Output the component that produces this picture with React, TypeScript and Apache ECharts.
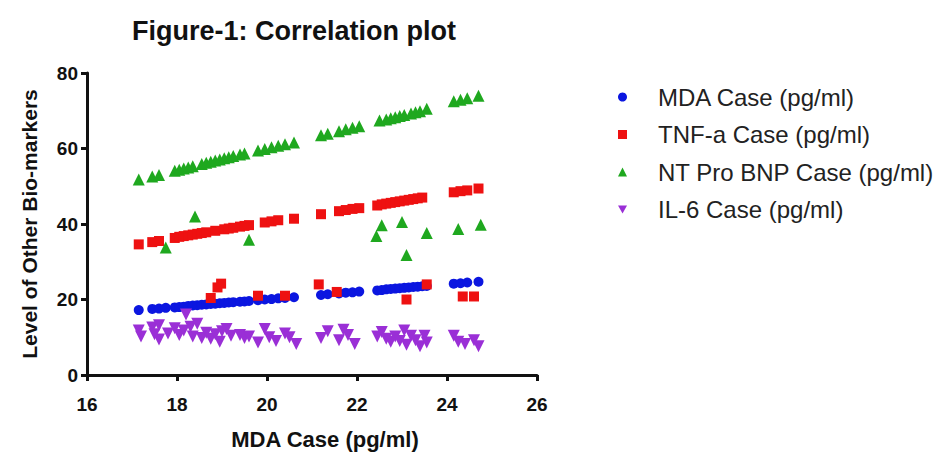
import React, { useEffect, useRef } from "react";
import * as echarts from "echarts";

const titleText = "Figure-1: Correlation plot";
const xAxisName = "MDA Case (pg/ml)";
const yAxisName = "Level of Other Bio-markers";
const seriesNames = [
  "MDA Case (pg/ml)",
  "TNF-a Case (pg/ml)",
  "NT Pro BNP Case (pg/ml)",
  "IL-6 Case (pg/ml)",
];
const seriesColors = ["#0b16e0", "#ee1111", "#1fa81f", "#9a2fd6"];

const mdaPoints: number[][] = [
  [17.15, 17.2], [17.45, 17.5], [17.6, 17.6], [17.75, 17.8], [17.95, 17.9], [18.05, 18.0],
  [18.15, 18.1], [18.25, 18.3], [18.35, 18.4], [18.45, 18.5], [18.55, 18.6], [18.65, 18.7],
  [18.75, 18.8], [18.85, 18.9], [18.95, 19.0], [19.05, 19.1], [19.15, 19.2], [19.25, 19.3],
  [19.4, 19.4], [19.5, 19.5], [19.6, 19.6], [19.8, 19.8], [19.95, 20.0], [20.1, 20.1],
  [20.25, 20.3], [20.4, 20.4], [20.6, 20.6], [21.2, 21.2], [21.35, 21.4], [21.6, 21.6],
  [21.75, 21.8], [21.9, 21.9], [22.05, 22.1], [22.45, 22.4], [22.55, 22.5], [22.65, 22.7],
  [22.75, 22.8], [22.85, 22.9], [22.95, 23.0], [23.05, 23.1], [23.15, 23.2], [23.25, 23.3],
  [23.35, 23.4], [23.45, 23.5], [23.55, 23.6], [24.15, 24.2], [24.3, 24.3], [24.45, 24.5],
  [24.7, 24.7],
];

const tnfPoints: number[][] = [
  [17.15, 34.6], [17.45, 35.2], [17.6, 35.5], [17.95, 36.3], [18.05, 36.6], [18.15, 36.8],
  [18.25, 37.0], [18.35, 37.2], [18.45, 37.4], [18.55, 37.6], [18.65, 37.8], [18.85, 38.2],
  [19.05, 38.6], [19.15, 38.8], [19.25, 39.0], [19.4, 39.3], [19.5, 39.5], [19.6, 39.7],
  [19.95, 40.4], [20.1, 40.7], [20.25, 41.0], [20.6, 41.4], [21.2, 42.6], [21.6, 43.4],
  [21.75, 43.7], [21.9, 44.0], [22.05, 44.2], [22.45, 44.9], [22.55, 45.2], [22.65, 45.4],
  [22.75, 45.6], [22.85, 45.8], [22.95, 46.0], [23.05, 46.2], [23.15, 46.4], [23.25, 46.6],
  [23.35, 46.8], [23.45, 47.0], [24.15, 48.4], [24.3, 48.7], [24.45, 48.9], [24.7, 49.4],
  [18.75, 20.4], [18.9, 23.2], [18.98, 24.2], [19.8, 21.0], [20.4, 21.0], [21.15, 24.0],
  [21.55, 22.0], [23.1, 20.0], [23.55, 24.0], [24.35, 20.8], [24.6, 20.8],
];

const bnpPoints: number[][] = [
  [17.15, 51.8], [17.45, 52.6], [17.6, 53.0], [17.95, 54.1], [18.05, 54.4], [18.15, 54.7],
  [18.25, 55.0], [18.35, 55.3], [18.55, 55.9], [18.65, 56.2], [18.75, 56.5], [18.85, 56.8],
  [18.95, 57.1], [19.05, 57.4], [19.15, 57.7], [19.25, 58.0], [19.4, 58.4], [19.5, 58.7],
  [19.8, 59.5], [19.95, 59.9], [20.1, 60.3], [20.25, 60.7], [20.4, 61.1], [20.6, 61.6],
  [21.2, 63.5], [21.35, 63.9], [21.6, 64.6], [21.75, 65.1], [21.9, 65.5], [22.05, 65.9],
  [22.5, 67.4], [22.65, 67.7], [22.75, 68.0], [22.85, 68.3], [22.95, 68.6], [23.05, 68.9],
  [23.2, 69.3], [23.3, 69.6], [23.4, 69.9], [23.55, 70.5], [24.15, 72.5], [24.3, 72.9],
  [24.45, 73.3], [24.7, 74.0],
  [17.75, 33.8], [18.4, 42.0], [19.6, 35.8], [22.43, 36.8], [22.55, 39.7], [23.0, 40.5],
  [23.1, 31.8], [23.55, 37.6], [24.25, 38.7], [24.75, 39.8],
];

const il6Points: number[][] = [
  [17.15, 11.8], [17.2, 10.2], [17.45, 12.6], [17.5, 10.8], [17.6, 13.2], [17.6, 9.4],
  [17.8, 11.0], [17.95, 12.4], [18.05, 10.6], [18.15, 11.8], [18.2, 16.0], [18.3, 12.8],
  [18.35, 10.2], [18.45, 13.6], [18.55, 9.8], [18.65, 11.2], [18.75, 9.6], [18.85, 10.8],
  [18.95, 8.8], [19.0, 11.6], [19.1, 12.2], [19.2, 10.4], [19.4, 10.6], [19.5, 9.8],
  [19.6, 10.2], [19.8, 8.6], [19.95, 12.2], [20.05, 10.0], [20.2, 9.0], [20.4, 11.0],
  [20.5, 10.0], [20.65, 8.2], [21.2, 9.8], [21.35, 11.6], [21.6, 9.2], [21.7, 12.0],
  [21.8, 10.6], [21.95, 8.2], [22.45, 10.2], [22.55, 11.4], [22.65, 9.6], [22.75, 8.8],
  [22.85, 10.2], [22.95, 9.0], [23.05, 11.8], [23.1, 8.0], [23.2, 10.4], [23.3, 9.2],
  [23.4, 7.6], [23.5, 10.4], [23.55, 8.6], [24.15, 10.4], [24.25, 8.8], [24.4, 8.2],
  [24.6, 9.2], [24.7, 7.6],
];

const xTicks = { min: 16, max: 26, interval: 2 };
const yTicks = { min: 0, max: 80, interval: 20 };

const FONT = "'Liberation Sans', Arial, sans-serif";

export default function App() {
  const ref = useRef<HTMLDivElement>(null);
  useEffect(() => {
    if (!ref.current) return;
    const chart = echarts.init(ref.current, undefined, { renderer: "svg" });
    const symbols = ["circle", "rect", "triangle", "path://M0,0 L10,0 L5,9 Z"];
    const sizes = [10, 10, 12, 12];
    const datas = [mdaPoints, tnfPoints, bnpPoints, il6Points];
    const axisCommon = {
      axisLine: { show: true, onZero: false, lineStyle: { color: "#111", width: 3 } },
      axisTick: { show: true, length: 6, lineStyle: { color: "#111", width: 3 } },
      axisLabel: { color: "#111", fontSize: 19, fontWeight: "bold", fontFamily: FONT },
      splitLine: { show: false },
      nameTextStyle: { color: "#111", fontSize: 21, fontWeight: "bold", fontFamily: FONT },
    };
    chart.setOption({
      animation: false,
      backgroundColor: "#fff",
      textStyle: { fontFamily: FONT },
      title: {
        text: titleText,
        left: 127,
        top: 12,
        textStyle: { fontSize: 27, fontWeight: "bold", color: "#111", fontFamily: FONT },
      },
      grid: { left: 87, top: 73, width: 450, height: 302, containLabel: false },
      legend: {
        orient: "vertical",
        left: 613,
        top: 79,
        itemWidth: 9,
        itemHeight: 9,
        itemGap: 11.5,
        textStyle: {
          fontSize: 24,
          color: "#222",
          fontFamily: FONT,
          lineHeight: 26,
          padding: [0, 0, 0, 26],
        },
        data: seriesNames.map((n, i) => ({ name: n, icon: symbols[i] })),
      },
      xAxis: {
        type: "value",
        ...axisCommon,
        min: xTicks.min,
        max: xTicks.max,
        interval: xTicks.interval,
        name: xAxisName,
        nameLocation: "middle",
        nameGap: 53,
        nameTextStyle: { ...axisCommon.nameTextStyle, fontSize: 22, padding: [0, 0, 0, 26] },
        axisLabel: { ...axisCommon.axisLabel, margin: 20 },
      },
      yAxis: {
        type: "value",
        ...axisCommon,
        min: yTicks.min,
        max: yTicks.max,
        interval: yTicks.interval,
        name: yAxisName,
        nameLocation: "middle",
        nameGap: 47,
        axisLabel: { ...axisCommon.axisLabel, margin: 9 },
      },
      series: seriesNames.map((n, i) => ({
        name: n,
        type: "scatter",
        data: datas[i],
        symbol: symbols[i],
        symbolSize: sizes[i],
        itemStyle: { color: seriesColors[i], opacity: 1 },
      })),
    });
    return () => chart.dispose();
  }, []);
  return (
    <div
      ref={ref}
      style={{ position: "fixed", left: 0, top: 0, width: 943, height: 456, background: "#fff" }}
    />
  );
}
